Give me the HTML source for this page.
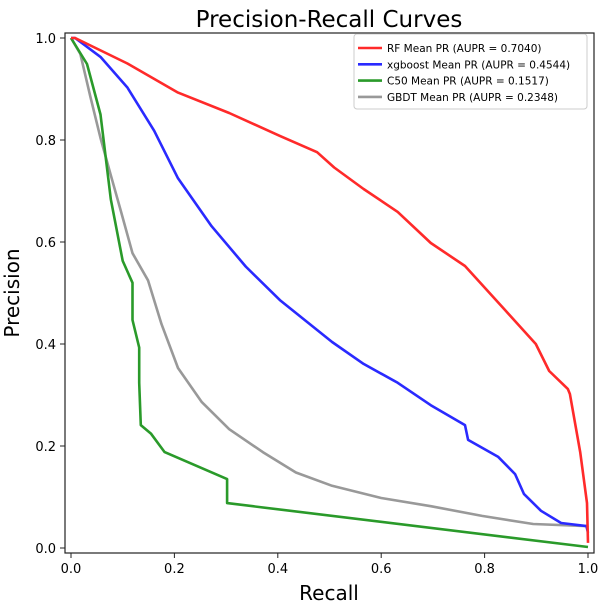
<!DOCTYPE html>
<html><head><meta charset="utf-8"><style>
body{margin:0;background:#fff;}
svg{display:block;font-family:"DejaVu Sans","Liberation Sans",sans-serif;}
</style></head><body>
<svg id="chart" width="600" height="607">
<rect x="0" y="0" width="600" height="607" fill="#fff"/>
<text x="329" y="27" font-size="23" text-anchor="middle">Precision-Recall Curves</text>
<text x="329" y="600" font-size="20" text-anchor="middle">Recall</text>
<text transform="translate(19,293) rotate(-90)" font-size="20" text-anchor="middle">Precision</text>
<g id="ticks"></g>
<g id="series"></g>
<rect x="65" y="33" width="529" height="520" fill="none" stroke="#222" stroke-width="1.2"/>
<g id="legend"></g>
</svg>
<script>
const xTicks=[0,0.2,0.4,0.6,0.8,1.0];
const yTicks=[0,0.2,0.4,0.6,0.8,1.0];
const seriesNames=["RF","xgboost","C50","GBDT"];
const seriesColors=["#ff2a2a","#2a2aff","#2a9a2a","#999999"];
const aupr=["0.7040","0.4544","0.1517","0.2348"];
const rfRecall=[0,0.008,0.109,0.207,0.306,0.404,0.476,0.509,0.566,0.632,0.696,0.762,0.839,0.899,0.925,0.961,0.965,0.985,0.998,1.0];
const rfPrec=[1,1,0.95,0.893,0.853,0.808,0.776,0.746,0.704,0.659,0.598,0.553,0.467,0.4,0.347,0.312,0.302,0.188,0.088,0.01];
const xgRecall=[0,0.008,0.057,0.109,0.161,0.207,0.272,0.338,0.404,0.505,0.566,0.632,0.696,0.762,0.768,0.826,0.859,0.876,0.909,0.948,0.997,1.0];
const xgPrec=[1,1,0.963,0.903,0.818,0.725,0.631,0.552,0.486,0.404,0.361,0.324,0.28,0.241,0.212,0.179,0.145,0.106,0.073,0.049,0.043,0.03];
const c50Recall=[0,0.031,0.057,0.077,0.1,0.119,0.119,0.132,0.132,0.135,0.155,0.181,0.302,0.302,1.0];
const c50Prec=[1,0.949,0.85,0.684,0.563,0.52,0.447,0.393,0.324,0.241,0.224,0.188,0.135,0.088,0.002];
const gbRecall=[0,0.018,0.038,0.057,0.077,0.097,0.119,0.149,0.175,0.207,0.253,0.306,0.371,0.435,0.505,0.6,0.696,0.795,0.894,0.997,1.0];
const gbPrec=[1,0.969,0.883,0.804,0.731,0.659,0.578,0.525,0.439,0.353,0.286,0.233,0.188,0.148,0.122,0.098,0.082,0.063,0.047,0.043,0.04];
const NS="http://www.w3.org/2000/svg";
const X=v=>71+v*517, Y=v=>548-v*510;
const tg=document.getElementById('ticks');
xTicks.forEach(t=>{
  const l=document.createElementNS(NS,'line');
  l.setAttribute('x1',X(t));l.setAttribute('x2',X(t));l.setAttribute('y1',553);l.setAttribute('y2',558);l.setAttribute('stroke','#222');
  
  
  tg.appendChild(l);
  const tx=document.createElementNS(NS,'text');
  tx.setAttribute('x',X(t));tx.setAttribute('y',573);tx.setAttribute('font-size','13');tx.setAttribute('text-anchor','middle');
  tx.textContent=t.toFixed(1);
  
  
  tg.appendChild(tx);
});
yTicks.forEach(t=>{
  const l=document.createElementNS(NS,'line');
  l.setAttribute('x1',60);l.setAttribute('x2',65);l.setAttribute('y1',Y(t));l.setAttribute('y2',Y(t));l.setAttribute('stroke','#222');
  
  
  tg.appendChild(l);
  const tx=document.createElementNS(NS,'text');
  tx.setAttribute('x',56);tx.setAttribute('y',Y(t)+5);tx.setAttribute('font-size','13');tx.setAttribute('text-anchor','end');
  tx.textContent=t.toFixed(1);
  
  
  tg.appendChild(tx);
});
const sg=document.getElementById('series');
const data=[[rfRecall,rfPrec],[xgRecall,xgPrec],[c50Recall,c50Prec],[gbRecall,gbPrec]];
[3,2,1,0].forEach(i=>{
  const [r,p]=data[i];
  const pl=document.createElementNS(NS,'polyline');
  pl.setAttribute('points',r.map((v,k)=>X(v).toFixed(1)+','+Y(p[k]).toFixed(1)).join(' '));
  pl.setAttribute('fill','none');pl.setAttribute('stroke',seriesColors[i]);pl.setAttribute('stroke-width','2.6');pl.setAttribute('stroke-linejoin','round');
  
  
  sg.appendChild(pl);
});
const lg=document.getElementById('legend');
const box=document.createElementNS(NS,'rect');
box.setAttribute('x',354);box.setAttribute('y',34);box.setAttribute('width',233);box.setAttribute('height',75);box.setAttribute('rx',3);
box.setAttribute('fill','#fff');box.setAttribute('stroke','#ccc');


lg.appendChild(box);
seriesNames.forEach((n,i)=>{
  const y=48+i*16.3;
  const l=document.createElementNS(NS,'line');
  l.setAttribute('x1',358);l.setAttribute('x2',382);l.setAttribute('y1',y);l.setAttribute('y2',y);l.setAttribute('stroke',seriesColors[i]);l.setAttribute('stroke-width','2.6');
  
  
  lg.appendChild(l);
  const t=document.createElementNS(NS,'text');
  t.setAttribute('x',387);t.setAttribute('y',y+4);t.setAttribute('font-size','10.5');
  t.textContent=n+' Mean PR (AUPR = '+aupr[i]+')';
  
  
  lg.appendChild(t);
});
</script>
</body></html>
